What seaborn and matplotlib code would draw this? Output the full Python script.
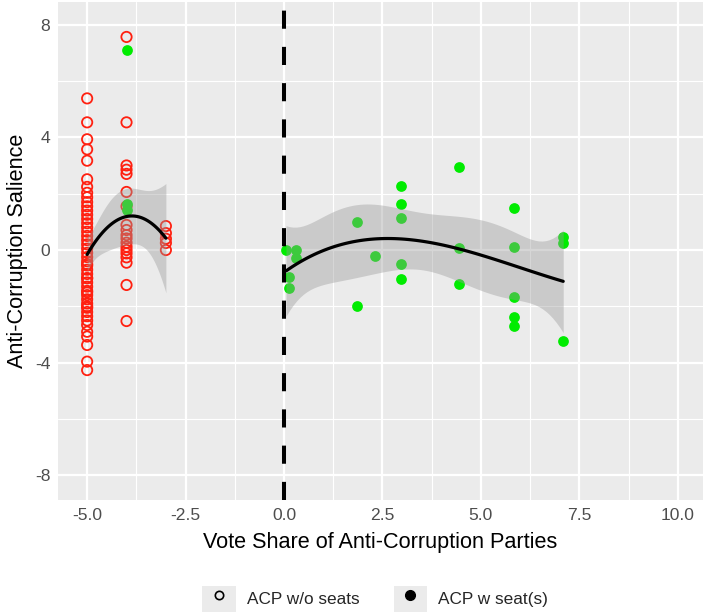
import math
import numpy as np
import pandas as pd
import seaborn as sns
import matplotlib.pyplot as plt
from matplotlib.ticker import MultipleLocator
from matplotlib.lines import Line2D
from matplotlib.patches import Rectangle
from matplotlib.legend_handler import HandlerTuple

# red hollow points (ACP w/o seats), by vote-share column
red_y_m5 = [5.38, 4.53, 3.93, 3.57, 3.17, 2.51, 2.24, 2.03, 1.87,
            1.7, 1.55, 1.4, 1.25, 1.1, 0.95, 0.8, 0.65, 0.5, 0.35, 0.2, 0.05,
            -0.1, -0.25, -0.4, -0.55, -0.7, -0.85, -1.0, -1.15, -1.3, -1.45,
            -1.6, -1.75, -1.9, -2.05, -2.2, -2.35, -2.5,
            -0.5, -1.0, -1.5, -2.0,
            -2.66, -2.9, -3.07, -3.37, -3.96, -4.26]
red_y_m4 = [7.56, 4.53, 3.0, 2.85, 2.7, 2.06, 1.55, 0.89, 0.71, 0.53, 0.41,
            0.26, 0.12, 0.0, -0.12, -0.26, -0.45, -1.24, -2.52]
red_y_m3 = [0.85, 0.6, 0.4, 0.25, 0.0]

# green filled points (ACP w seat(s))
green_x = [-4.0, -4.0, -4.0,
           0.05, 0.3, 0.3, 0.12, 0.12,
           1.86, 1.86, 2.32,
           2.96, 2.96, 2.96, 2.96, 2.96,
           4.45, 4.45, 4.45,
           5.85, 5.85, 5.85, 5.85, 5.85,
           7.09, 7.09, 7.09]
green_y = [7.09, 1.63, 1.42,
           0.0, 0.0, -0.3, -0.95, -1.35,
           1.0, -2.0, -0.2,
           2.27, 1.65, 1.12, -0.51, -1.04,
           2.95, 0.06, -1.2,
           1.5, 0.12, -1.68, -2.39, -2.68,
           0.47, 0.26, -3.23]

red = pd.DataFrame({
    'vote': [-5.0] * len(red_y_m5) + [-4.0] * len(red_y_m4) + [-3.0] * len(red_y_m3),
    'salience': red_y_m5 + red_y_m4 + red_y_m3,
})
green = pd.DataFrame({'vote': green_x, 'salience': green_y})
right = green[green['vote'] > 0]


def t975(df):
    z = 1.959964
    return z + (z**3 + z) / (4 * df) + (5 * z**5 + 16 * z**3 + 3 * z) / (96 * df**2)


def poly_band(x, y, order, grid):
    # OLS polynomial fit with 95% confidence band
    X = np.vander(x, order + 1)
    G = np.vander(grid, order + 1)
    XtX_inv = np.linalg.inv(X.T @ X)
    beta = XtX_inv @ X.T @ y
    resid = y - X @ beta
    df = len(x) - order - 1
    s = math.sqrt(resid @ resid / df)
    fit = G @ beta
    se = s * np.sqrt(np.einsum('ij,jk,ik->i', G, XtX_inv, G))
    return fit, se * t975(df)


sns.set_theme(style='darkgrid', rc={
    'axes.facecolor': '#EBEBEB',
    'grid.color': 'white',
    'axes.edgecolor': '#EBEBEB',
})
plt.rcParams['font.family'] = ['Liberation Sans', 'DejaVu Sans']

fig = plt.figure(figsize=(7.06, 6.13), dpi=100)
ax = fig.add_axes([58 / 706, 113 / 613, 645 / 706, 498 / 613])

sns.scatterplot(data=red, x='vote', y='salience', s=55, facecolors='none',
                edgecolor='#FF2010', linewidth=1.3, zorder=2, ax=ax)
sns.scatterplot(data=green, x='vote', y='salience', s=60, color='#00EC00',
                linewidth=0, zorder=2, ax=ax)

ax.axvline(0, color='black', lw=2.9, ls=(0, (4.5, 4.5)), zorder=3)

# smooth fits with confidence bands
gl = np.linspace(red['vote'].min(), red['vote'].max(), 80)
fl, bl = poly_band(red['vote'].to_numpy(), red['salience'].to_numpy(), 2, gl)
gr = np.linspace(right['vote'].min(), right['vote'].max(), 80)
fr, br = poly_band(right['vote'].to_numpy(), right['salience'].to_numpy(), 3, gr)
for g, f, b in [(gl, fl, bl), (gr, fr, br)]:
    ax.fill_between(g, f - b, f + b, color='#999999', alpha=0.4, lw=0, zorder=3)
    sns.lineplot(x=g, y=f, color='black', lw=2.3, zorder=4, ax=ax)

ax.set_xlim(-5.74, 10.64)
ax.set_ylim(-8.87, 8.8)
xt = [-5, -2.5, 0, 2.5, 5, 7.5, 10]
ax.set_xticks(xt)
ax.set_xticklabels([f'{v:.1f}' for v in xt])
yt = [-8, -4, 0, 4, 8]
ax.set_yticks(yt)
ax.set_yticklabels([str(v) for v in yt])
ax.xaxis.set_minor_locator(MultipleLocator(1.25))
ax.yaxis.set_minor_locator(MultipleLocator(2))
ax.grid(which='major', color='white', lw=1.6)
ax.grid(which='minor', color='white', lw=0.8)
ax.tick_params(which='major', length=3.5, width=1, color='#333333',
               labelsize=12.6, labelcolor='#4D4D4D', pad=2)
ax.tick_params(which='minor', length=0)
for s in ax.spines.values():
    s.set_visible(False)

ax.set_xlabel('Vote Share of Anti-Corruption Parties', fontsize=15.6,
              color='black', labelpad=7)
ax.set_ylabel('Anti-Corruption Salience', fontsize=15.6, color='black',
              labelpad=5)

handles = [
    (Rectangle((0, 0), 1, 1, facecolor='#EBEBEB', edgecolor='none'),
     Line2D([], [], marker='o', ls='', mfc='none', mec='black', ms=6, mew=1.2)),
    (Rectangle((0, 0), 1, 1, facecolor='#EBEBEB', edgecolor='none'),
     Line2D([], [], marker='o', ls='', color='black', ms=7)),
]
fig.legend(handles, ['ACP w/o seats', 'ACP w seat(s)'],
           handler_map={tuple: HandlerTuple(ndivide=1, pad=0)},
           loc='center', bbox_to_anchor=(375 / 706, 14 / 613), ncol=2,
           frameon=False, fontsize=12.4, handlelength=1.95, handleheight=1.95,
           handletextpad=0.63, columnspacing=2.0, borderpad=0)

fig.savefig('out.png', dpi=100)
